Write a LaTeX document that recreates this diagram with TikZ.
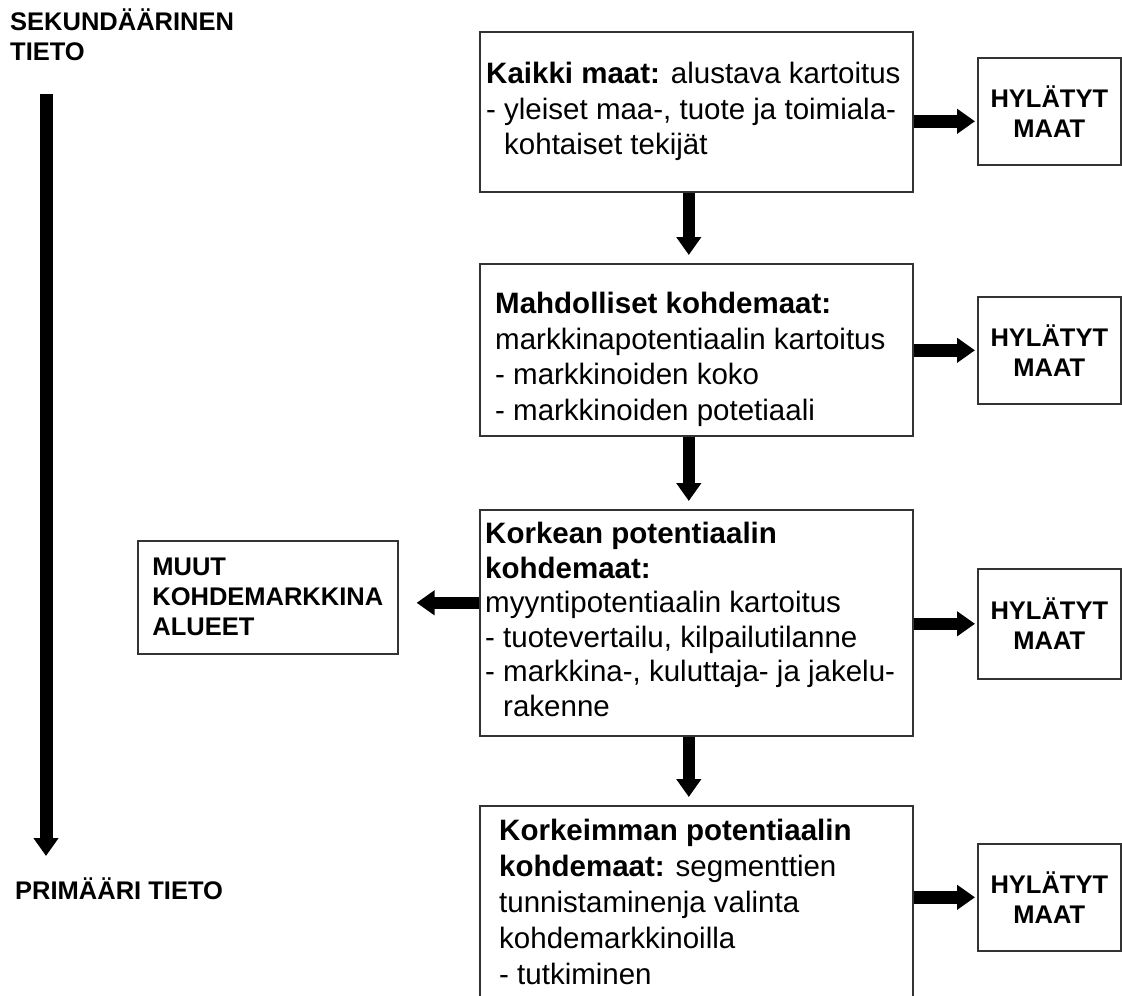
\documentclass[tikz,border=0pt]{standalone}
\usepackage{fontspec}
\setmainfont{Liberation Sans}
\usetikzlibrary{arrows.meta,calc}
\begin{document}
\begin{tikzpicture}[x=1pt,y=-1pt,
  box/.style={draw=black!80, line width=1.6pt, rectangle, inner sep=0pt, anchor=north west},
  bigarrow/.style={line width=12.5pt, -{Triangle[width=24pt,length=18pt]}},
  lab/.style={font=\fontsize{25.5}{30}\selectfont\bfseries, inner sep=0pt},
  txt/.style={font=\fontsize{29.5}{35.5}\selectfont, align=left, inner sep=0pt, anchor=north west}]
\useasboundingbox (0,0) rectangle (1122,996);
\fill[white] (0,0) rectangle (1122,996);
\clip (0,0) rectangle (1122,996);

% side labels and long arrow
\node[lab, align=left, anchor=north west] (sek) at (10,9) {SEKUNDÄÄRINEN\\TIETO};
\node[lab, anchor=base west] (prim) at (15,899) {PRIMÄÄRI TIETO};
\coordinate (ls) at (46,94);
\coordinate (le) at (46,856);
\draw[bigarrow, line width=13pt] (ls) -- (le);

% main boxes
\node[box, minimum width=433pt, minimum height=160pt] (b1) at (479,31) {};
\node[box, minimum width=433pt, minimum height=172pt] (b2) at (479,263) {};
\node[box, minimum width=433pt, minimum height=226pt] (b3) at (479,509) {};
\node[box, minimum width=433pt, minimum height=215pt] (b4) at (479,805) {};

\node[txt] (t1) at (486,62) {\textbf{Kaikki maat:} alustava kartoitus\\
- yleiset maa-, tuote ja toimiala-\\
\phantom{- }kohtaiset tekijät};
\node[txt] (t2) at (495,292) {\textbf{Mahdolliset kohdemaat:}\\
markkinapotentiaalin kartoitus\\
- markkinoiden koko\\
- markkinoiden potetiaali};
\node[txt, font=\fontsize{29.5}{34.5}\selectfont] (t3) at (485,522) {\textbf{Korkean potentiaalin}\\
\textbf{kohdemaat:}\\
myyntipotentiaalin kartoitus\\
- tuotevertailu, kilpailutilanne\\
- markkina-, kuluttaja- ja jakelu-\\
\phantom{- }rakenne};
\node[txt, font=\fontsize{29.5}{36}\selectfont] (t4) at (499,819) {\textbf{Korkeimman potentiaalin}\\
\textbf{kohdemaat:} segmenttien\\
tunnistaminenja valinta\\
kohdemarkkinoilla\\
- tutkiminen};

% rejected boxes
\node[box, lab, align=center, minimum width=143pt, minimum height=107pt] (h1) at (977,57) {HYLÄTYT\\MAAT};
\node[box, lab, align=center, minimum width=143pt, minimum height=107pt] (h2) at (977,296) {HYLÄTYT\\MAAT};
\node[box, lab, align=center, minimum width=143pt, minimum height=110pt] (h3) at (977,568) {HYLÄTYT\\MAAT};
\node[box, lab, align=center, minimum width=143pt, minimum height=107pt] (h4) at (977,843) {HYLÄTYT\\MAAT};

% other target areas
\node[box, lab, align=left, minimum width=260pt, minimum height=113pt] (m) at (137,540) {MUUT\\KOHDEMARKKINA\\ALUEET};

% down arrows
\draw[bigarrow, shorten >=8pt] ([xshift=-7.5pt]b1.south) -- ([xshift=-7.5pt]b2.north);
\draw[bigarrow, shorten >=8pt] ([xshift=-7.5pt]b2.south) -- ([xshift=-7.5pt]b3.north);
\draw[bigarrow, shorten >=8pt] ([xshift=-7.5pt]b3.south) -- ([xshift=-7.5pt]b4.north);

% right arrows
\coordinate (h1a) at ([yshift=-10pt]h1.west);
\draw[bigarrow, shorten >=2pt] (b1.east |- h1a) -- (h1a);
\draw[bigarrow, shorten >=2pt] (b2.east |- h2.west) -- (h2.west);
\draw[bigarrow, shorten >=2pt] (b3.east |- h3.west) -- (h3.west);
\draw[bigarrow, shorten >=2pt] (b4.east |- h4.west) -- (h4.west);

% left arrow
\coordinate (ma) at ([yshift=-5.5pt]m.east);
\draw[bigarrow, shorten >=18pt] (b3.west |- ma) -- (ma);
\end{tikzpicture}
\end{document}
